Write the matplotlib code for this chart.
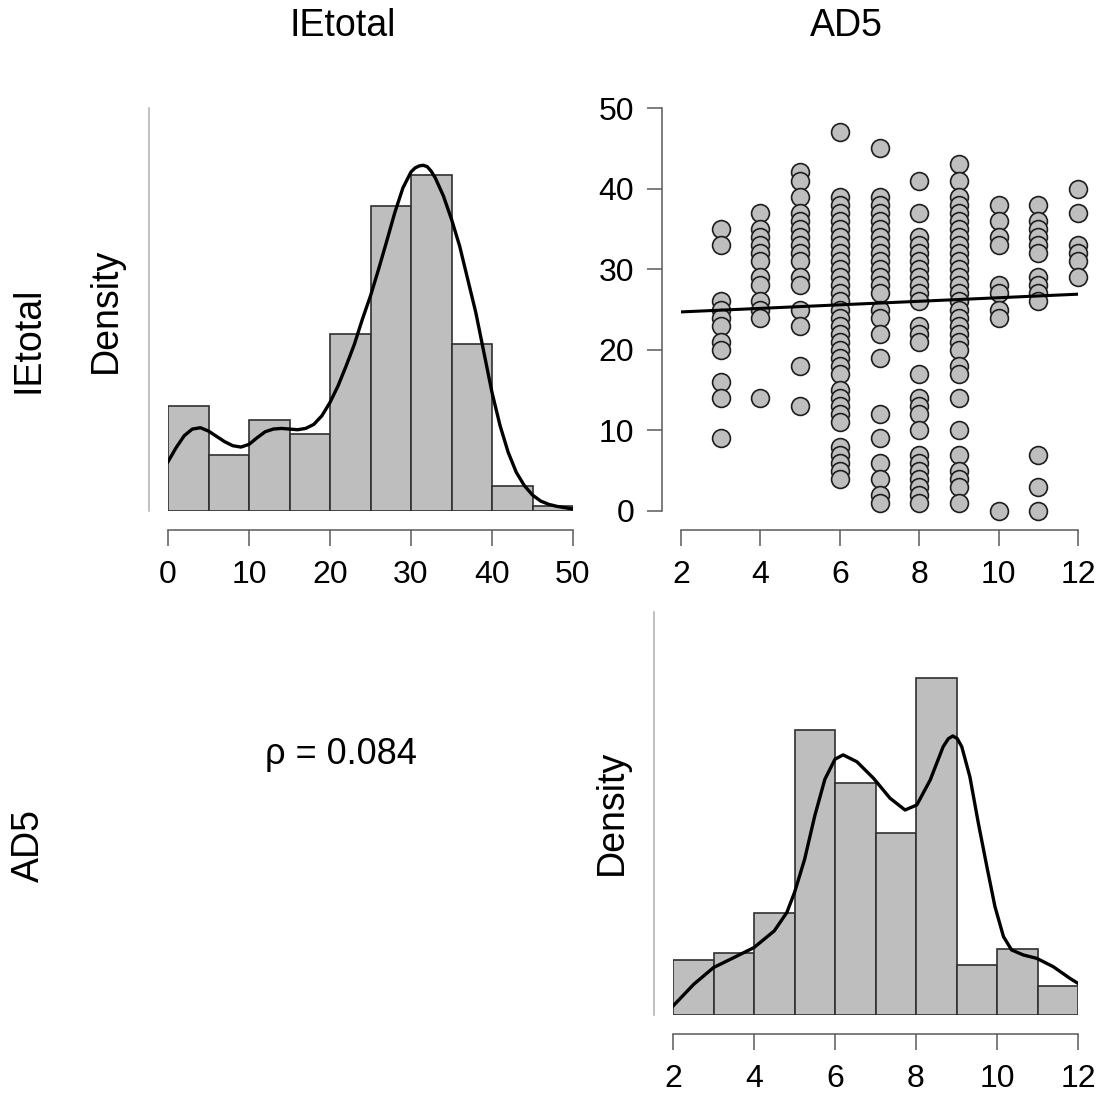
import numpy as np
import matplotlib.pyplot as plt

plt.switch_backend('agg')
plt.rcParams['font.family'] = ['Liberation Sans', 'DejaVu Sans']

# ---- data ----
# IEtotal histogram (density), bins of width 5 from 0 to 50
ie_bin_edges = [0, 5, 10, 15, 20, 25, 30, 35, 40, 45, 50]
ie_density = [0.0157, 0.0084, 0.0136, 0.0115, 0.0266, 0.0458, 0.0505, 0.0250, 0.0038, 0.0007]

# IEtotal density curve
ie_curve_x = [0, 1, 2, 3, 4, 5, 6, 7, 8, 9, 10, 11, 12, 13, 14, 15, 16, 17, 18, 19,
              20, 21, 22, 23, 24, 25, 26, 27, 28, 29, 30, 30.5, 31, 31.5, 32, 32.5, 33, 34,
              35, 36, 37, 38, 39, 40, 41, 42, 43, 44, 45, 46, 47, 48, 49, 50]
ie_curve_y = [0.0074, 0.0095, 0.0113, 0.0123, 0.0125, 0.0120, 0.0112, 0.0104, 0.0098, 0.0096,
              0.0100, 0.0110, 0.0119, 0.0123, 0.0124, 0.0123, 0.0122, 0.0124, 0.0130, 0.0143,
              0.0163, 0.0188, 0.0218, 0.0250, 0.0288, 0.0323, 0.0363, 0.0405, 0.0448, 0.0485,
              0.0509, 0.0515, 0.0518, 0.0519, 0.0517, 0.0510, 0.0500, 0.0473,
              0.0438, 0.0398, 0.0348, 0.0298, 0.0238, 0.0178, 0.0128, 0.0088, 0.0058, 0.0038,
              0.0024, 0.0015, 0.0010, 0.0007, 0.0005, 0.0003]

# AD5 histogram (density), bins of width 1 from 2 to 12
ad5_bin_edges = [2, 3, 4, 5, 6, 7, 8, 9, 10, 11, 12]
ad5_density = [0.039, 0.044, 0.073, 0.204, 0.166, 0.130, 0.241, 0.036, 0.047, 0.021]

# AD5 density curve
ad5_curve_x = [2.00, 2.51, 3.00, 3.50, 4.00, 4.50, 4.81, 5.00, 5.25, 5.50, 5.75, 6.00, 6.20,
               6.54, 6.95, 7.36, 7.73, 8.02, 8.35, 8.67, 8.80, 8.91, 9.02, 9.13, 9.33, 9.54,
               9.75, 9.95, 10.16, 10.36, 10.65, 10.98, 11.39, 11.80, 12.00]
ad5_curve_y = [0.0064, 0.0219, 0.0339, 0.0410, 0.0482, 0.0601, 0.0732, 0.0875, 0.1113, 0.1423,
               0.1685, 0.1828, 0.1859, 0.1810, 0.1692, 0.1549, 0.1465, 0.1501, 0.1679, 0.1917,
               0.1975, 0.1994, 0.1975, 0.1917, 0.1703, 0.1370, 0.1060, 0.0774, 0.0560, 0.0465,
               0.0429, 0.0405, 0.0345, 0.0262, 0.0226]

# scatter: IEtotal values observed at each AD5 score
ie_at_3 = [35, 33, 26, 25, 24, 23, 21, 20, 16, 14, 9]
ie_at_4 = [37, 35, 34, 33, 32, 31, 29, 28, 26, 25, 24, 14]
ie_at_5 = [42, 41, 39, 37, 36, 35, 34, 33, 32, 31, 29, 28, 25, 23, 18, 13]
ie_at_6 = [47, 39, 38, 37, 36, 35, 34, 33, 32, 31, 30, 29, 28, 27, 26, 25, 24, 23, 22, 21,
           20, 19, 18, 17, 15, 14, 13, 12, 11, 8, 7, 6, 5, 4]
ie_at_7 = [45, 39, 38, 37, 36, 35, 34, 33, 32, 31, 30, 29, 28, 27, 25, 24, 22, 19, 12, 9,
           6, 4, 2, 1]
ie_at_8 = [41, 37, 34, 33, 32, 31, 30, 29, 28, 27, 26, 23, 22, 21, 17, 14, 13, 12, 10, 7,
           6, 5, 4, 3, 2, 1]
ie_at_9 = [43, 41, 39, 38, 37, 36, 35, 34, 33, 32, 31, 30, 29, 28, 27, 26, 25, 24, 23, 22,
           21, 20, 18, 17, 14, 10, 7, 5, 4, 3, 1]
ie_at_10 = [38, 36, 34, 33, 28, 27, 25, 24, 0]
ie_at_11 = [38, 36, 35, 34, 33, 32, 29, 28, 27, 26, 7, 3, 0]
ie_at_12 = [40, 37, 33, 32, 31, 29]
ad5_levels = [3, 4, 5, 6, 7, 8, 9, 10, 11, 12]

# regression line end points
fit_x = [2, 12]
fit_y = [24.7, 26.9]

rho_text = "\u03c1 = 0.084"
var_names = ["IEtotal", "AD5"]

# ---- layout (pixels) ----
W, H = 1107, 1095
fig = plt.figure(figsize=(W / 100, H / 100), dpi=100)


def add_px_axes(left, top, right, bottom):
    return fig.add_axes([left / W, 1 - bottom / H, (right - left) / W, (bottom - top) / H])


BAR_COLOR = '#bebebe'
EDGE_COLOR = '#303030'
AXIS_COLOR = '#5a5a5a'
OFFSET = 19 * 0.72  # spine offset in points
TICK_SIZE = 23


def style_axes(ax, left_ticks=False):
    for side in ['top', 'right']:
        ax.spines[side].set_visible(False)
    ax.spines['bottom'].set_position(('outward', OFFSET))
    ax.spines['left'].set_position(('outward', OFFSET))
    ax.spines['bottom'].set_color(AXIS_COLOR)
    ax.spines['bottom'].set_linewidth(1.1)
    ax.tick_params(axis='x', direction='out', length=11.5, width=1.1, color=AXIS_COLOR,
                   pad=10, labelsize=TICK_SIZE)
    if left_ticks:
        ax.spines['left'].set_color(AXIS_COLOR)
        ax.spines['left'].set_linewidth(1.1)
        ax.tick_params(axis='y', direction='out', length=11, width=1.1, color=AXIS_COLOR,
                       pad=9, labelsize=TICK_SIZE)
    else:
        ax.spines['left'].set_color('#b0b0b0')
        ax.spines['left'].set_linewidth(1.1)
        ax.set_yticks([])
    ax.patch.set_alpha(0)


# top-left: IEtotal histogram
ax1 = add_px_axes(168, 108, 573, 511)
widths = np.diff(ie_bin_edges)
ax1.bar(ie_bin_edges[:-1], ie_density, width=widths, align='edge', color=BAR_COLOR,
        edgecolor=EDGE_COLOR, linewidth=1.2)
ax1.plot(ie_curve_x, ie_curve_y, color='black', linewidth=2.4, solid_joinstyle='round')
ax1.set_xlim(0, 50)
ax1.set_ylim(0, 0.0605)
ax1.set_xticks([0, 10, 20, 30, 40, 50])
style_axes(ax1)
ax1.spines['bottom'].set_bounds(0, 50)

# top-right: scatter AD5 vs IEtotal
ax2 = add_px_axes(681, 108, 1078, 511)
columns = [ie_at_3, ie_at_4, ie_at_5, ie_at_6, ie_at_7, ie_at_8, ie_at_9, ie_at_10,
           ie_at_11, ie_at_12]
for level, vals in zip(ad5_levels, columns):
    ax2.scatter([level] * len(vals), vals, s=165, color=BAR_COLOR, edgecolor='#1e1e1e',
                linewidth=1.2, zorder=3, clip_on=False)
ax2.plot(fit_x, fit_y, color='black', linewidth=2.2, zorder=4)
ax2.set_xlim(2, 12)
ax2.set_ylim(0, 50)
ax2.set_xticks([2, 4, 6, 8, 10, 12])
ax2.set_yticks([0, 10, 20, 30, 40, 50])
style_axes(ax2, left_ticks=True)
ax2.spines['bottom'].set_bounds(2, 12)
ax2.spines['left'].set_bounds(0, 50)

# bottom-right: AD5 histogram
ax3 = add_px_axes(673, 612, 1078, 1015)
widths = np.diff(ad5_bin_edges)
ax3.bar(ad5_bin_edges[:-1], ad5_density, width=widths, align='edge', color=BAR_COLOR,
        edgecolor=EDGE_COLOR, linewidth=1.2)
ax3.plot(ad5_curve_x, ad5_curve_y, color='black', linewidth=2.4, solid_joinstyle='round')
ax3.set_xlim(2, 12)
ax3.set_ylim(0, 0.288)
ax3.set_xticks([2, 4, 6, 8, 10, 12])
style_axes(ax3)
ax3.spines['bottom'].set_bounds(2, 12)

# texts


def px_text(x, y, s, **kw):
    fig.text(x / W, 1 - y / H, s, ha='center', va='center', **kw)


px_text(343, 26, var_names[0], fontsize=27)
px_text(846, 26, var_names[1], fontsize=27)
px_text(29, 340, var_names[0], fontsize=27, rotation=90)
px_text(29, 845, var_names[1], fontsize=27, rotation=90)
px_text(106, 310, "Density", fontsize=27, rotation=90)
px_text(612, 812, "Density", fontsize=27, rotation=90)
px_text(341, 755, rho_text, fontsize=26)

fig.savefig('out.png', dpi=100)
